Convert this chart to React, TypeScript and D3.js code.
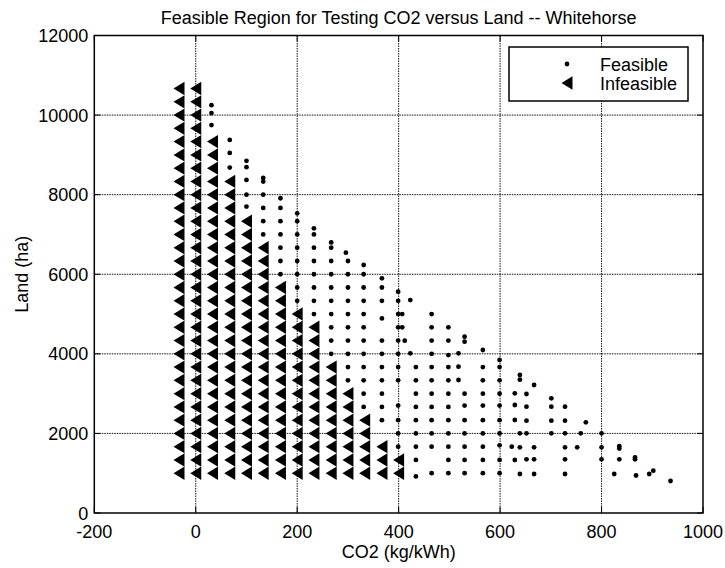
import React from 'react';
import * as d3 from 'd3';

const W = 725;
const H = 568;

const titleText = 'Feasible Region for Testing CO2 versus Land -- Whitehorse';
const xLabelText = 'CO2 (kg/kWh)';
const yLabelText = 'Land (ha)';
const legendLabels = ['Feasible', 'Infeasible'];

const xTicks = [-200, 0, 200, 400, 600, 800, 1000];
const yTicks = [0, 2000, 4000, 6000, 8000, 10000, 12000];

// land levels of the design grid (ha)
const landRows = [
  1000, 1333, 1667, 2000, 2333, 2667, 3000, 3333, 3667, 4000,
  4333, 4667, 5000, 5333, 5667, 6000, 6333, 6667, 7000, 7333,
  7667, 8000, 8333, 8667, 9000, 9333, 9667, 10000, 10333, 10667,
];

// infeasible columns: CO2 value and how many land levels (from the bottom) are infeasible
const infeasibleCO2 = [-33, 0, 33, 67, 100, 133, 167, 200, 233, 267, 300, 333, 367, 400];
const infeasibleRowCounts = [30, 30, 26, 23, 20, 18, 15, 13, 12, 9, 7, 5, 3, 2];

// feasible points: [CO2, list of land values]
const feasibleColumns: [number, number[]][] = [
  [31, [10250, 10050, 9750]],
  [67, [9375, 9050, 8680]],
  [100, [8850, 8690, 8370, 8000, 7700]],
  [133, [8420, 8330, 8000, 7667, 7333, 7000]],
  [167, [7910, 7667, 7333, 7000, 6667, 6333, 6000]],
  [200, [7530, 7333, 7000, 6667, 6333, 6000, 5667, 5333]],
  [233, [7155, 7000, 6667, 6333, 6000, 5667, 5333, 5000]],
  [267, [6800, 6667, 6333, 6000, 5667, 5333, 5000, 4667, 4333, 4000]],
  [296, [6543]],
  [300, [6333, 6000, 5667, 5333, 5000, 4667, 4333, 4000, 3667, 3333]],
  [331, [6233, 6000, 5667, 5333, 5000, 4667, 4333, 4000, 3667, 3333, 3000, 2667]],
  [367, [5898, 5667, 5333, 4891, 4333, 4000, 3667, 3333, 3000, 2667, 2333]],
  [399, [5560, 5333, 5000, 4667, 4333, 4000, 3667, 3333, 2700, 2333, 2000, 1667]],
  [407, [5000, 4667]],
  [412, [4330]],
  [423, [5352, 4012]],
  [434, [3667, 3333, 3000, 2667, 2333, 2000, 1667, 1333, 920]],
  [465, [5000, 4667, 4333, 4000, 3667, 3333, 3000, 2667, 2333, 2000, 1667, 1000]],
  [498, [4667, 4333, 3970, 3667, 3333, 3000, 2667, 2333, 2000, 1667, 1333, 1000]],
  [518, [4012, 3677, 3342]],
  [530, [4430, 4305, 3000, 2700, 2333, 2000, 1667, 1333, 1000]],
  [566, [4096, 3667, 3333, 3000, 2700, 2333, 2000, 1667, 1333, 1000]],
  [599, [3845, 3667, 3333, 3000, 2700, 2333, 2000, 1700, 1333, 1000]],
  [623, [1667]],
  [629, [3007, 2714, 2337, 1332]],
  [639, [3470, 3350, 2003, 1651, 980]],
  [652, [2990, 2672, 2320, 2003, 1349]],
  [667, [3217, 1651, 1349, 980]],
  [701, [2883, 2672, 2320, 2003]],
  [728, [2672, 2320, 2003, 1651, 1349, 980]],
  [752, [1651]],
  [759, [2003]],
  [769, [2278]],
  [800, [2003, 1651, 1349]],
  [825, [980]],
  [835, [1680, 1620, 1349]],
  [866, [1400, 1349]],
  [868, [943]],
  [894, [980]],
  [902, [1063]],
  [936, [804]],
];

const FONT = '"Liberation Sans", Arial, Helvetica, sans-serif';

export default function App() {
  const left = 94.3, right = 703, top = 35.5, bottom = 513;
  const x = d3.scaleLinear().domain([-200, 1000]).range([left, right]);
  const y = d3.scaleLinear().domain([0, 12000]).range([bottom, top]);

  const triPath = (cx: number, cy: number) => {
    const hw = 5.5, hh = 6.7;
    const p = d3.path();
    p.moveTo(cx - hw, cy);
    p.lineTo(cx + hw, cy - hh);
    p.lineTo(cx + hw, cy + hh);
    p.closePath();
    return p.toString();
  };

  const triangles: { cx: number; cy: number; key: string }[] = [];
  infeasibleCO2.forEach((c, i) => {
    for (let r = 0; r < infeasibleRowCounts[i]; r++) {
      triangles.push({ cx: x(c), cy: y(landRows[r]), key: `t${i}-${r}` });
    }
  });

  const dots: { cx: number; cy: number; key: string }[] = [];
  feasibleColumns.forEach(([c, lands], i) => {
    lands.forEach((l, j) => dots.push({ cx: x(c), cy: y(l), key: `d${i}-${j}` }));
  });

  const gridStyle = { stroke: '#111', strokeWidth: 1, strokeDasharray: '1.5 1' };
  const tickLen = 6;

  return (
    <svg
      width={W}
      height={H}
      style={{ position: 'absolute', left: 0, top: 0, background: '#fff' }}
      fontFamily={FONT}
    >
      <rect x={0} y={0} width={W} height={H} fill="#fff" />
      {/* grid */}
      {xTicks.slice(1, -1).map((t) => (
        <line key={`gx${t}`} x1={x(t)} x2={x(t)} y1={top} y2={bottom} style={gridStyle} />
      ))}
      {yTicks.slice(1, -1).map((t) => (
        <line key={`gy${t}`} x1={left} x2={right} y1={y(t)} y2={y(t)} style={gridStyle} />
      ))}
      {/* ticks */}
      {xTicks.map((t) => (
        <g key={`tx${t}`} stroke="#000" strokeWidth={1}>
          <line x1={x(t)} x2={x(t)} y1={bottom} y2={bottom - tickLen} />
          <line x1={x(t)} x2={x(t)} y1={top} y2={top + tickLen} />
        </g>
      ))}
      {yTicks.map((t) => (
        <g key={`ty${t}`} stroke="#000" strokeWidth={1}>
          <line x1={left} x2={left + tickLen} y1={y(t)} y2={y(t)} />
          <line x1={right} x2={right - tickLen} y1={y(t)} y2={y(t)} />
        </g>
      ))}
      {/* data */}
      {triangles.map((t) => (
        <path key={t.key} d={triPath(t.cx, t.cy)} fill="#000" />
      ))}
      {dots.map((d) => (
        <circle key={d.key} cx={d.cx} cy={d.cy} r={2.4} fill="#000" />
      ))}
      {/* box */}
      <rect x={left} y={top} width={right - left} height={bottom - top} fill="none" stroke="#000" strokeWidth={1.5} />
      {/* tick labels */}
      {xTicks.map((t) => (
        <text key={`lx${t}`} x={x(t)} y={538} textAnchor="middle" fontSize={18} fill="#000">
          {t}
        </text>
      ))}
      {yTicks.map((t) => (
        <text key={`ly${t}`} x={left - 6} y={y(t) + 6.5} textAnchor="end" fontSize={18} fill="#000">
          {t}
        </text>
      ))}
      {/* titles */}
      <text x={(left + right) / 2} y={24} textAnchor="middle" fontSize={18} fill="#000">
        {titleText}
      </text>
      <text x={(left + right) / 2} y={558} textAnchor="middle" fontSize={18} fill="#000">
        {xLabelText}
      </text>
      <text transform={`translate(28,${(top + bottom) / 2}) rotate(-90)`} textAnchor="middle" fontSize={18} fill="#000">
        {yLabelText}
      </text>
      {/* legend */}
      <g>
        <rect x={509} y={47} width={179} height={54} fill="#fff" stroke="#000" strokeWidth={1.5} />
        <circle cx={567} cy={64} r={2.4} fill="#000" />
        <text x={600} y={70.5} fontSize={18} fill="#000">{legendLabels[0]}</text>
        <path d={triPath(567, 83)} fill="#000" />
        <text x={600} y={89.5} fontSize={18} fill="#000">{legendLabels[1]}</text>
      </g>
    </svg>
  );
}
